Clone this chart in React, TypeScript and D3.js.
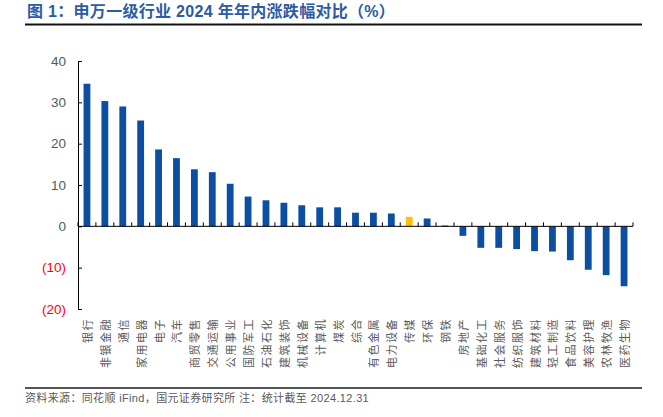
import React, { useRef, useEffect } from 'react';
import * as d3 from 'd3';

// 申万一级行业 2024 年内涨跌幅（%）
const industries = [
  '银行', '非银金融', '通信', '家用电器', '电子', '汽车', '商贸零售', '交通运输',
  '公用事业', '国防军工', '石油石化', '建筑装饰', '机械设备', '计算机', '煤炭', '综合',
  '有色金属', '电力设备', '传媒', '环保', '钢铁', '房地产', '基础化工', '社会服务',
  '纺织服饰', '建筑材料', '轻工制造', '食品饮料', '美容护理', '农林牧渔', '医药生物',
];
const changes = [
  34.5, 30.3, 29.0, 25.6, 18.6, 16.5, 13.8, 13.1,
  10.3, 7.2, 6.3, 5.7, 5.1, 4.6, 4.6, 3.3,
  3.3, 3.1, 2.3, 1.9, 0.2, -2.3, -5.2, -5.2,
  -5.5, -6.0, -6.1, -8.2, -10.5, -11.8, -14.5,
];
const highlighted = '传媒';
const yTicks = [40, 30, 20, 10, 0, -10, -20];

const titleText = '图 1：申万一级行业 2024 年年内涨跌幅对比（%）';
const sourceText = '资料来源：同花顺 iFind，国元证券研究所 注：统计截至 2024.12.31';

const cjk = '"Noto Sans CJK SC", "Liberation Sans", sans-serif';
const latin = '"Liberation Sans", Arial, "Noto Sans CJK SC", sans-serif';

function IndustryChart() {
  const svgRef = useRef(null);

  useEffect(() => {
    const w = 663;
    const h = 417;
    const svg = d3.select(svgRef.current)
      .attr('width', w)
      .attr('height', h)
      .style('background', '#fff');
    svg.selectAll('*').remove();

    // title + rule
    svg.append('text')
      .attr('x', 27)
      .attr('y', 17)
      .attr('font-family', latin)
      .attr('font-size', 16)
      .attr('font-weight', 'bold')
      .attr('letter-spacing', 0.3)
      .attr('fill', '#2b5ba4')
      .text(titleText);
    svg.append('line')
      .attr('x1', 25).attr('x2', 642)
      .attr('y1', 23.5).attr('y2', 23.5)
      .attr('stroke', '#8c8c8c')
      .attr('stroke-width', 1);
    svg.append('line')
      .attr('x1', 25).attr('x2', 642)
      .attr('y1', 24.8).attr('y2', 24.8)
      .attr('stroke', '#111')
      .attr('stroke-width', 1.6);

    const xScale = d3.scaleBand()
      .domain(industries)
      .range([78, 633])
      .paddingInner(0.62)
      .paddingOuter(0.31);
    const yScale = d3.scaleLinear()
      .domain([-20, 40])
      .range([309, 61]);

    // bars
    svg.append('g')
      .selectAll('rect')
      .data(industries)
      .join('rect')
      .attr('x', d => xScale(d)!)
      .attr('width', xScale.bandwidth())
      .attr('y', (d, i) => yScale(Math.max(0, changes[i])))
      .attr('height', (d, i) => Math.abs(yScale(changes[i]) - yScale(0)))
      .attr('fill', d => (d === highlighted ? '#ffc000' : '#0b4ea2'));

    // y axis
    const yAxis = d3.axisLeft(yScale)
      .tickValues(yTicks)
      .tickSizeInner(-4)
      .tickSizeOuter(0)
      .tickPadding(12)
      .tickFormat(v => (+v < 0 ? `(${-v})` : String(v)));
    const gy = svg.append('g')
      .attr('transform', 'translate(78,0)')
      .call(yAxis);
    gy.select('.domain').attr('stroke', '#000');
    gy.selectAll('.tick line').attr('stroke', '#000');
    gy.selectAll('.tick text')
      .attr('font-family', latin)
      .attr('font-size', 13.5)
      .attr('fill', (d: any) => (d < 0 ? '#ff0000' : '#595959'));

    // x axis at zero with ticks between categories
    const y0 = yScale(0);
    const [x0, x1] = xScale.range();
    const step = xScale.step();
    svg.append('line')
      .attr('x1', x0).attr('x2', x1)
      .attr('y1', y0).attr('y2', y0)
      .attr('stroke', '#000');
    svg.append('g')
      .selectAll('line')
      .data(d3.range(industries.length + 1))
      .join('line')
      .attr('x1', i => x0 + i * step)
      .attr('x2', i => x0 + i * step)
      .attr('y1', y0)
      .attr('y2', y0 - 4)
      .attr('stroke', '#000');

    // category labels, rotated -90 and ending just under the plot
    svg.append('g')
      .selectAll('text')
      .data(industries)
      .join('text')
      .attr('transform', d => `translate(${xScale(d)! + xScale.bandwidth() / 2},318) rotate(-90)`)
      .attr('text-anchor', 'end')
      .attr('dominant-baseline', 'central')
      .attr('font-family', cjk)
      .attr('font-size', 11)
      .attr('letter-spacing', 1.5)
      .attr('fill', '#595959')
      .text(d => d);

    // source rule + note
    svg.append('line')
      .attr('x1', 25).attr('x2', 642)
      .attr('y1', 388).attr('y2', 388)
      .attr('stroke', '#1a1a1a')
      .attr('stroke-width', 1.5);
    svg.append('text')
      .attr('x', 25)
      .attr('y', 402)
      .attr('font-family', latin)
      .attr('font-size', 11)
      .attr('letter-spacing', 0.35)
      .attr('fill', '#595959')
      .text(sourceText);
  }, []);

  return (
    <svg ref={svgRef} style={{ position: 'absolute', left: 0, top: 0, display: 'block' }}></svg>
  );
}

export default function App() {
  return <IndustryChart />;
}
